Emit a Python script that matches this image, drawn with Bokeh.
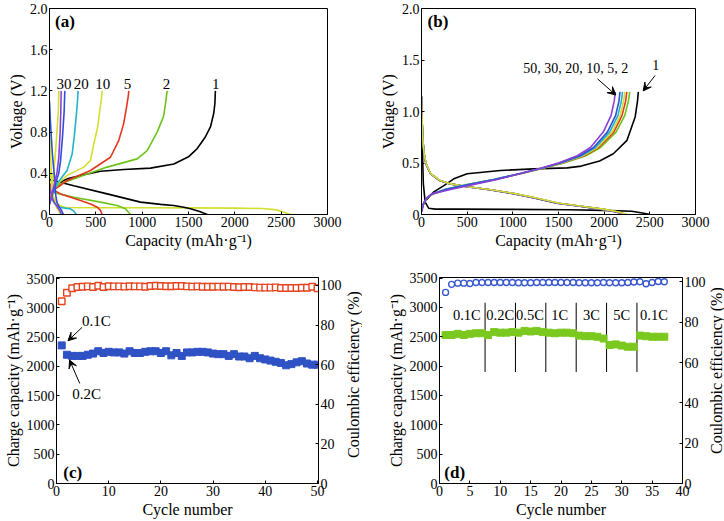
from bokeh.plotting import figure
from bokeh.layouts import column, row
from bokeh.models import (Range1d, LinearAxis, FixedTicker, Label, Arrow, VeeHead,
                          CustomJSTickFormatter)
from bokeh.embed import file_html
from bokeh.resources import INLINE

FONT = "Liberation Serif"

# ---------------- Panel (a) data: voltage profiles ----------------
a1_chg_cap = [0, 40, 83, 191, 335, 550, 802, 1090, 1342, 1500, 1594, 1680, 1737, 1772, 1785, 1790]
a1_chg_v = [0.12, 0.24, 0.298, 0.346, 0.379, 0.420, 0.437, 0.45, 0.49, 0.56, 0.64, 0.75, 0.85, 0.98, 1.08, 1.2]
a1_dis_cap = [0, 262, 622, 982, 1200, 1341, 1450, 1522, 1620, 1702]
a1_dis_v = [0.34, 0.28, 0.2, 0.12, 0.098, 0.087, 0.07, 0.055, 0.03, 0.0]
a2_chg_cap = [0, 47, 155, 370, 622, 946, 1054, 1162, 1230, 1252, 1262, 1270]
a2_chg_v = [0.13, 0.265, 0.31, 0.38, 0.46, 0.54, 0.62, 0.80, 0.95, 1.075, 1.15, 1.2]
a2_dis_cap = [0, 29, 262, 550, 730, 820, 874]
a2_dis_v = [0.3, 0.217, 0.168, 0.12, 0.087, 0.055, 0.0]
a5_chg_cap = [0, 65, 191, 442, 658, 748, 800, 831, 850, 856]
a5_chg_v = [0.14, 0.25, 0.33, 0.427, 0.556, 0.72, 0.88, 1.04, 1.15, 1.2]
a5_dis_cap = [0, 40, 119, 335, 450, 515, 550, 568]
a5_dis_v = [0.3, 0.24, 0.2, 0.136, 0.1, 0.071, 0.04, 0.0]
a10_chg_cap = [0, 47, 191, 370, 442, 478, 520, 543, 560, 568]
a10_chg_v = [0.12, 0.265, 0.38, 0.46, 0.524, 0.686, 0.85, 1.01, 1.12, 1.2]
a10_dis_cap = [0, 30, 80, 170, 500, 1000, 1500, 2000, 2300, 2450, 2530, 2570, 2600]
a10_dis_v = [0.45, 0.2, 0.1, 0.068, 0.066, 0.065, 0.064, 0.062, 0.058, 0.045, 0.022, 0.01, 0.0]
a20_chg_cap = [0, 83, 191, 245, 270, 291, 302, 309]
a20_chg_v = [0.12, 0.3, 0.43, 0.59, 0.78, 0.98, 1.1, 1.2]
a20_dis_cap = [0, 30, 60, 100, 227, 265, 290]
a20_dis_v = [0.2, 0.14, 0.1, 0.07, 0.055, 0.03, 0.0]
a30_chg_cap = [0, 47, 100, 119, 140, 158, 165]
a30_chg_v = [0.1, 0.25, 0.4, 0.52, 0.75, 1.0, 1.2]
a30_dis_cap = [0, 10, 30, 55, 65, 80, 100, 130, 150]
a30_dis_v = [1.1, 0.9, 0.6, 0.35, 0.2, 0.12, 0.08, 0.04, 0.0]
a40_chg_cap = [0, 40, 80, 100, 115, 122, 126]
a40_chg_v = [0.1, 0.25, 0.4, 0.55, 0.8, 1.0, 1.2]
a40_dis_cap = [0, 20, 50, 80, 110, 130]
a40_dis_v = [0.3, 0.18, 0.12, 0.08, 0.04, 0.0]
a50_chg_cap = [0, 30, 60, 80, 95, 101]
a50_chg_v = [0.12, 0.3, 0.55, 0.8, 1.0, 1.2]
a50_dis_cap = [0, 10, 25, 45, 70, 100, 120]
a50_dis_v = [0.9, 0.6, 0.3, 0.15, 0.08, 0.03, 0.0]
a_label_text = ["1", "2", "5", "10", "20", "30"]
a_label_cap = [1794, 1262, 842, 575, 342, 156]

# ---------------- Panel (b) data ----------------
b1_chg_cap = [0, 30, 135, 245, 354, 500, 865, 1230, 1595, 1750, 1950, 2100, 2250, 2340, 2365, 2374]
b1_chg_v = [0.03, 0.12, 0.22, 0.28, 0.346, 0.395, 0.427, 0.443, 0.453, 0.47, 0.52, 0.59, 0.72, 0.95, 1.1, 1.19]
b1_dis_cap = [0, 8, 20, 40, 80, 150, 400, 1000, 1600, 2000, 2300, 2420, 2500]
b1_dis_v = [1.15, 0.7, 0.3, 0.12, 0.06, 0.052, 0.052, 0.05, 0.046, 0.04, 0.032, 0.015, 0.0]
b_chg_v = [0.03, 0.10, 0.16, 0.20, 0.245, 0.29, 0.34, 0.40, 0.45, 0.50, 0.57, 0.65, 0.80, 0.96, 1.10, 1.19]
b2_chg_cap = [0, 20, 60, 130, 280, 520, 800, 1110, 1330, 1560, 1800, 1960, 2130, 2225, 2265, 2280]
b5_chg_cap = [0, 20, 60, 125, 270, 510, 795, 1105, 1325, 1545, 1780, 1940, 2105, 2195, 2235, 2248]
b10_chg_cap = [0, 20, 60, 120, 265, 505, 790, 1100, 1320, 1535, 1765, 1925, 2085, 2175, 2213, 2226]
b20_chg_cap = [0, 20, 58, 118, 260, 500, 785, 1095, 1315, 1525, 1750, 1905, 2060, 2150, 2188, 2201]
b30_chg_cap = [0, 18, 56, 115, 275, 520, 800, 1090, 1310, 1515, 1735, 1885, 2035, 2125, 2162, 2173]
b50_chg_cap = [0, 18, 55, 112, 330, 560, 830, 1095, 1305, 1500, 1705, 1850, 1990, 2075, 2110, 2122]
b_dis_v = [1.14, 0.95, 0.72, 0.58, 0.49, 0.395, 0.33, 0.3, 0.27, 0.24, 0.205, 0.16, 0.11, 0.08, 0.05, 0.025, 0.0]
b2_dis_cap = [0, 5, 15, 30, 50, 100, 200, 300, 500, 750, 990, 1230, 1480, 1730, 1975, 2130, 2225]
b5_dis_cap = [0, 5, 15, 30, 50, 100, 200, 300, 500, 755, 1000, 1250, 1500, 1750, 2000, 2150, 2240]
b10_dis_cap = [0, 5, 15, 30, 52, 102, 205, 305, 505, 760, 1010, 1260, 1510, 1760, 2010, 2160, 2250]
b20_dis_cap = [0, 5, 15, 30, 50, 100, 200, 300, 500, 750, 1000, 1245, 1495, 1745, 1995, 2145, 2235]
b30_dis_cap = [0, 5, 15, 30, 50, 100, 200, 300, 500, 750, 995, 1240, 1490, 1740, 1990, 2140, 2232]
b50_dis_cap = [0, 5, 15, 30, 50, 100, 200, 300, 500, 745, 990, 1235, 1485, 1735, 1985, 2135, 2228]

# ---------------- Panel (c) data ----------------
c_cycle = list(range(1, 51))
c_capacity = [2360, 2200, 2180, 2180, 2180, 2200, 2220, 2260, 2230, 2250,
              2240, 2240, 2220, 2260, 2230, 2230, 2250, 2260, 2260, 2230,
              2260, 2190, 2230, 2180, 2240, 2240, 2250, 2250, 2240, 2220,
              2210, 2210, 2180, 2210, 2170, 2170, 2140, 2180, 2140, 2120,
              2100, 2080, 2060, 2020, 2040, 2070, 2090, 2050, 2030, 2030]
c_efficiency = [92.0, 96.3, 98.6, 99.2, 99.3, 99.5, 99.2, 99.8, 99.2, 99.6,
                99.5, 99.5, 99.4, 99.6, 99.5, 99.5, 99.3, 99.7, 99.8, 99.7,
                99.6, 99.6, 99.7, 99.7, 99.5, 99.4, 99.5, 99.3, 99.3, 99.3,
                99.4, 99.3, 99.4, 99.2, 99.1, 99.2, 99.2, 99.0, 98.9, 98.9,
                98.9, 99.0, 98.7, 98.7, 98.7, 98.7, 98.8, 98.8, 99.3, 98.6]

# ---------------- Panel (d) data ----------------
d_cycle = list(range(1, 38))
d_capacity = [2530, 2530, 2550, 2530, 2550, 2560, 2560, 2530, 2580, 2570,
              2570, 2580, 2570, 2600, 2590, 2600, 2580, 2570, 2560, 2570,
              2570, 2560, 2520, 2510, 2510, 2500, 2470, 2360, 2370, 2350,
              2330, 2330, 2520, 2510, 2500, 2500, 2500]
d_efficiency = [94.8, 98.8, 99.4, 99.4, 99.2, 99.7, 99.7, 99.7, 99.7, 99.7,
                99.7, 99.7, 99.6, 99.6, 99.6, 99.7, 99.7, 99.7, 99.7, 99.7,
                99.7, 99.7, 99.6, 99.6, 99.6, 99.6, 99.7, 99.6, 99.6, 99.6,
                99.7, 100.0, 100.1, 99.1, 99.7, 100.2, 100.1]
d_rate_labels = ["0.1C", "0.2C", "0.5C", "1C", "3C", "5C", "0.1C"]
d_rate_label_x = [4.5, 10.0, 14.9, 19.8, 25.0, 30.0, 35.3]
d_rate_bounds = [7.5, 12.5, 17.5, 22.5, 27.5, 32.5]

BLACK = "#000000"
GREEN = "#6cc31a"
RED = "#e5361f"
YELLOW = "#d3df2e"
CYAN = "#22b3cc"
BLUE = "#2d4fd2"
PURPLE = "#8a3fd6"


def make_fig(w, h, xr, yr, bl, br, bt, bb):
    p = figure(width=w, height=h, x_range=Range1d(*xr), y_range=Range1d(*yr),
               output_backend="svg", toolbar_location=None,
               min_border_left=bl, min_border_right=br,
               min_border_top=bt, min_border_bottom=bb)
    p.xgrid.visible = False
    p.ygrid.visible = False
    p.outline_line_color = "black"
    p.outline_line_width = 1
    p.outline_line_alpha = 1
    p.background_fill_color = "white"
    p.border_fill_color = "white"
    return p


def style_axis(ax, ticks, label, one_decimal=False):
    ax.ticker = FixedTicker(ticks=ticks)
    if one_decimal:
        ax.formatter = CustomJSTickFormatter(
            code="return tick == 0 ? '0' : tick.toFixed(1);")
    if label:
        ax.axis_label = label
    ax.axis_label_text_font = FONT
    ax.axis_label_text_font_size = "16px"
    ax.axis_label_text_font_style = "normal"
    ax.axis_label_text_color = "black"
    ax.axis_label_standoff = 2
    ax.major_label_text_font = FONT
    ax.major_label_text_font_size = "14px"
    ax.major_label_text_color = "black"
    ax.major_label_standoff = 2
    ax.major_tick_in = 3
    ax.major_tick_out = 0
    ax.minor_tick_in = 0
    ax.minor_tick_out = 0
    ax.axis_line_color = "black"
    ax.major_tick_line_color = "black"


def add_label(p, x, y, text, size="15px", bold=False, align="center", angle=0):
    p.add_layout(Label(x=x, y=y, text=text, text_font=FONT, text_font_size=size,
                       text_font_style="bold" if bold else "normal",
                       text_align=align, text_baseline="middle", text_color="black",
                       angle=angle, angle_units="deg"))


def add_arrow(p, x0, y0, x1, y1):
    p.add_layout(Arrow(end=VeeHead(size=8, line_color="black", fill_color="black", line_width=1),
                       x_start=x0, y_start=y0, x_end=x1, y_end=y1,
                       line_color="black", line_width=1))


def side_title(w, h, y, text):
    # narrow strip holding a bottom-to-top axis title for a right-hand axis
    s = figure(width=w, height=h, x_range=Range1d(0, 1), y_range=Range1d(0, 1),
               x_axis_type=None, y_axis_type=None, output_backend="svg",
               toolbar_location=None, min_border=0)
    s.outline_line_color = None
    s.xgrid.visible = False
    s.ygrid.visible = False
    s.background_fill_color = "white"
    s.border_fill_color = "white"
    add_label(s, 0.5, y, text, size="16px", angle=90)
    return s


# ---------------- Panel (a) ----------------
pa = make_fig(362, 260, (0, 3000), (0, 2.0), 49, 35, 8, 46)
style_axis(pa.xaxis[0], [0, 500, 1000, 1500, 2000, 2500, 3000], "Capacity (mAh·g⁻¹)")
style_axis(pa.yaxis[0], [0, 0.4, 0.8, 1.2, 1.6, 2.0], "Voltage (V)", one_decimal=True)
a_curves = [
    (a10_dis_cap, a10_dis_v, YELLOW),
    (a1_chg_cap, a1_chg_v, BLACK), (a1_dis_cap, a1_dis_v, BLACK),
    (a2_chg_cap, a2_chg_v, GREEN), (a2_dis_cap, a2_dis_v, GREEN),
    (a5_chg_cap, a5_chg_v, RED), (a5_dis_cap, a5_dis_v, RED),
    (a10_chg_cap, a10_chg_v, YELLOW),
    (a20_chg_cap, a20_chg_v, CYAN), (a20_dis_cap, a20_dis_v, CYAN),
    (a50_chg_cap, a50_chg_v, YELLOW), (a50_dis_cap, a50_dis_v, YELLOW),
    (a30_chg_cap, a30_chg_v, BLUE), (a30_dis_cap, a30_dis_v, BLUE),
    (a40_chg_cap, a40_chg_v, PURPLE), (a40_dis_cap, a40_dis_v, PURPLE),
]
for xs, ys, col in a_curves:
    pa.line(xs, ys, line_color=col, line_width=1.6)
for txt, xx in zip(a_label_text, a_label_cap):
    add_label(pa, xx, 1.27, txt)
add_label(pa, 60, 1.87, "(a)", size="17px", bold=True, align="left")

# ---------------- Panel (b) ----------------
pb = make_fig(362, 260, (0, 3000), (0, 2.0), 59, 29, 8, 46)
style_axis(pb.xaxis[0], [0, 500, 1000, 1500, 2000, 2500, 3000], "Capacity (mAh·g⁻¹)")
style_axis(pb.yaxis[0], [0, 0.5, 1.0, 1.5, 2.0], "Voltage (V)", one_decimal=True)
pb.line(b1_chg_cap, b1_chg_v, line_color=BLACK, line_width=1.6)
pb.line(b1_dis_cap, b1_dis_v, line_color=BLACK, line_width=1.6)
for cap, col in [(b2_dis_cap, GREEN), (b5_dis_cap, RED), (b20_dis_cap, CYAN),
                 (b30_dis_cap, BLUE), (b50_dis_cap, PURPLE), (b10_dis_cap, YELLOW)]:
    pb.line(cap, b_dis_v, line_color=col, line_width=1.6)
for cap, col in [(b2_chg_cap, GREEN), (b5_chg_cap, RED), (b10_chg_cap, YELLOW),
                 (b20_chg_cap, CYAN), (b30_chg_cap, BLUE), (b50_chg_cap, PURPLE)]:
    pb.line(cap, b_chg_v, line_color=col, line_width=1.6)
add_label(pb, 1690, 1.414, "50, 30, 20, 10, 5, 2", size="14px")
add_label(pb, 2566, 1.447, "1", size="14px")
add_arrow(pb, 1927, 1.317, 2128, 1.16)
add_arrow(pb, 2558, 1.35, 2427, 1.2)
add_label(pb, 66, 1.87, "(b)", size="17px", bold=True, align="left")

# ---------------- Panel (c) ----------------
pc = make_fig(344, 261, (0, 50.2), (0, 3520), 56, 26, 17, 38)
pc.extra_y_ranges = {"ce": Range1d(0, 104)}
style_axis(pc.xaxis[0], [0, 10, 20, 30, 40, 50], "Cycle number")
style_axis(pc.yaxis[0], [0, 500, 1000, 1500, 2000, 2500, 3000, 3500], "Charge capacity (mAh·g⁻¹)")
rc = LinearAxis(y_range_name="ce")
style_axis(rc, [0, 20, 40, 60, 80, 100], None)
pc.add_layout(rc, "right")
pc.scatter(c_cycle, c_capacity, marker="square", size=7, fill_color="#2f52c4",
           line_color="#2f52c4")
pc.scatter(c_cycle, c_efficiency, marker="square", size=6.5, fill_color="white",
           line_color="#e5421d", line_width=1.4, y_range_name="ce")
add_label(pc, 4.9, 2770, "0.1C", align="left")
add_arrow(pc, 4.9, 2668, 2.2, 2440)
add_label(pc, 3.0, 1528, "0.2C", align="left")
add_arrow(pc, 4.45, 1709, 2.5, 2110)
add_label(pc, 1.3, 190, "(c)", size="17px", bold=True, align="left")
tc = side_title(18, 261, 0.529, "Coulombic efficiency (%)")

# ---------------- Panel (d) ----------------
pd_ = make_fig(346, 261, (0, 40), (0, 3510), 77, 25, 17, 38)
pd_.extra_y_ranges = {"ce": Range1d(0, 102.2)}
style_axis(pd_.xaxis[0], [0, 5, 10, 15, 20, 25, 30, 35, 40], "Cycle number")
style_axis(pd_.yaxis[0], [0, 500, 1000, 1500, 2000, 2500, 3000, 3500], "Charge capacity (mAh·g⁻¹)")
rd = LinearAxis(y_range_name="ce")
style_axis(rd, [0, 20, 40, 60, 80, 100], None)
pd_.add_layout(rd, "right")
pd_.segment(x0=d_rate_bounds, y0=[1900] * len(d_rate_bounds), x1=d_rate_bounds,
            y1=[3080] * len(d_rate_bounds), line_color="black", line_width=1)
pd_.scatter(d_cycle, d_capacity, marker="square", size=7, fill_color="#7bc91f",
            line_color="#7bc91f")
pd_.scatter(d_cycle, d_efficiency, marker="circle", size=6, fill_color="white",
            line_color="#3a58cf", line_width=1.4, y_range_name="ce")
for txt, xx in zip(d_rate_labels, d_rate_label_x):
    add_label(pd_, xx, 2872, txt, size="14.5px")
add_label(pd_, 0.8, 190, "(d)", size="17px", bold=True, align="left")
td = side_title(16, 261, 0.548, "Coulombic efficiency (%)")

layout = column(row(pa, pb, spacing=0), row(pc, tc, pd_, td, spacing=0), spacing=0)
open("out.html", "w").write(file_html(layout, INLINE))
